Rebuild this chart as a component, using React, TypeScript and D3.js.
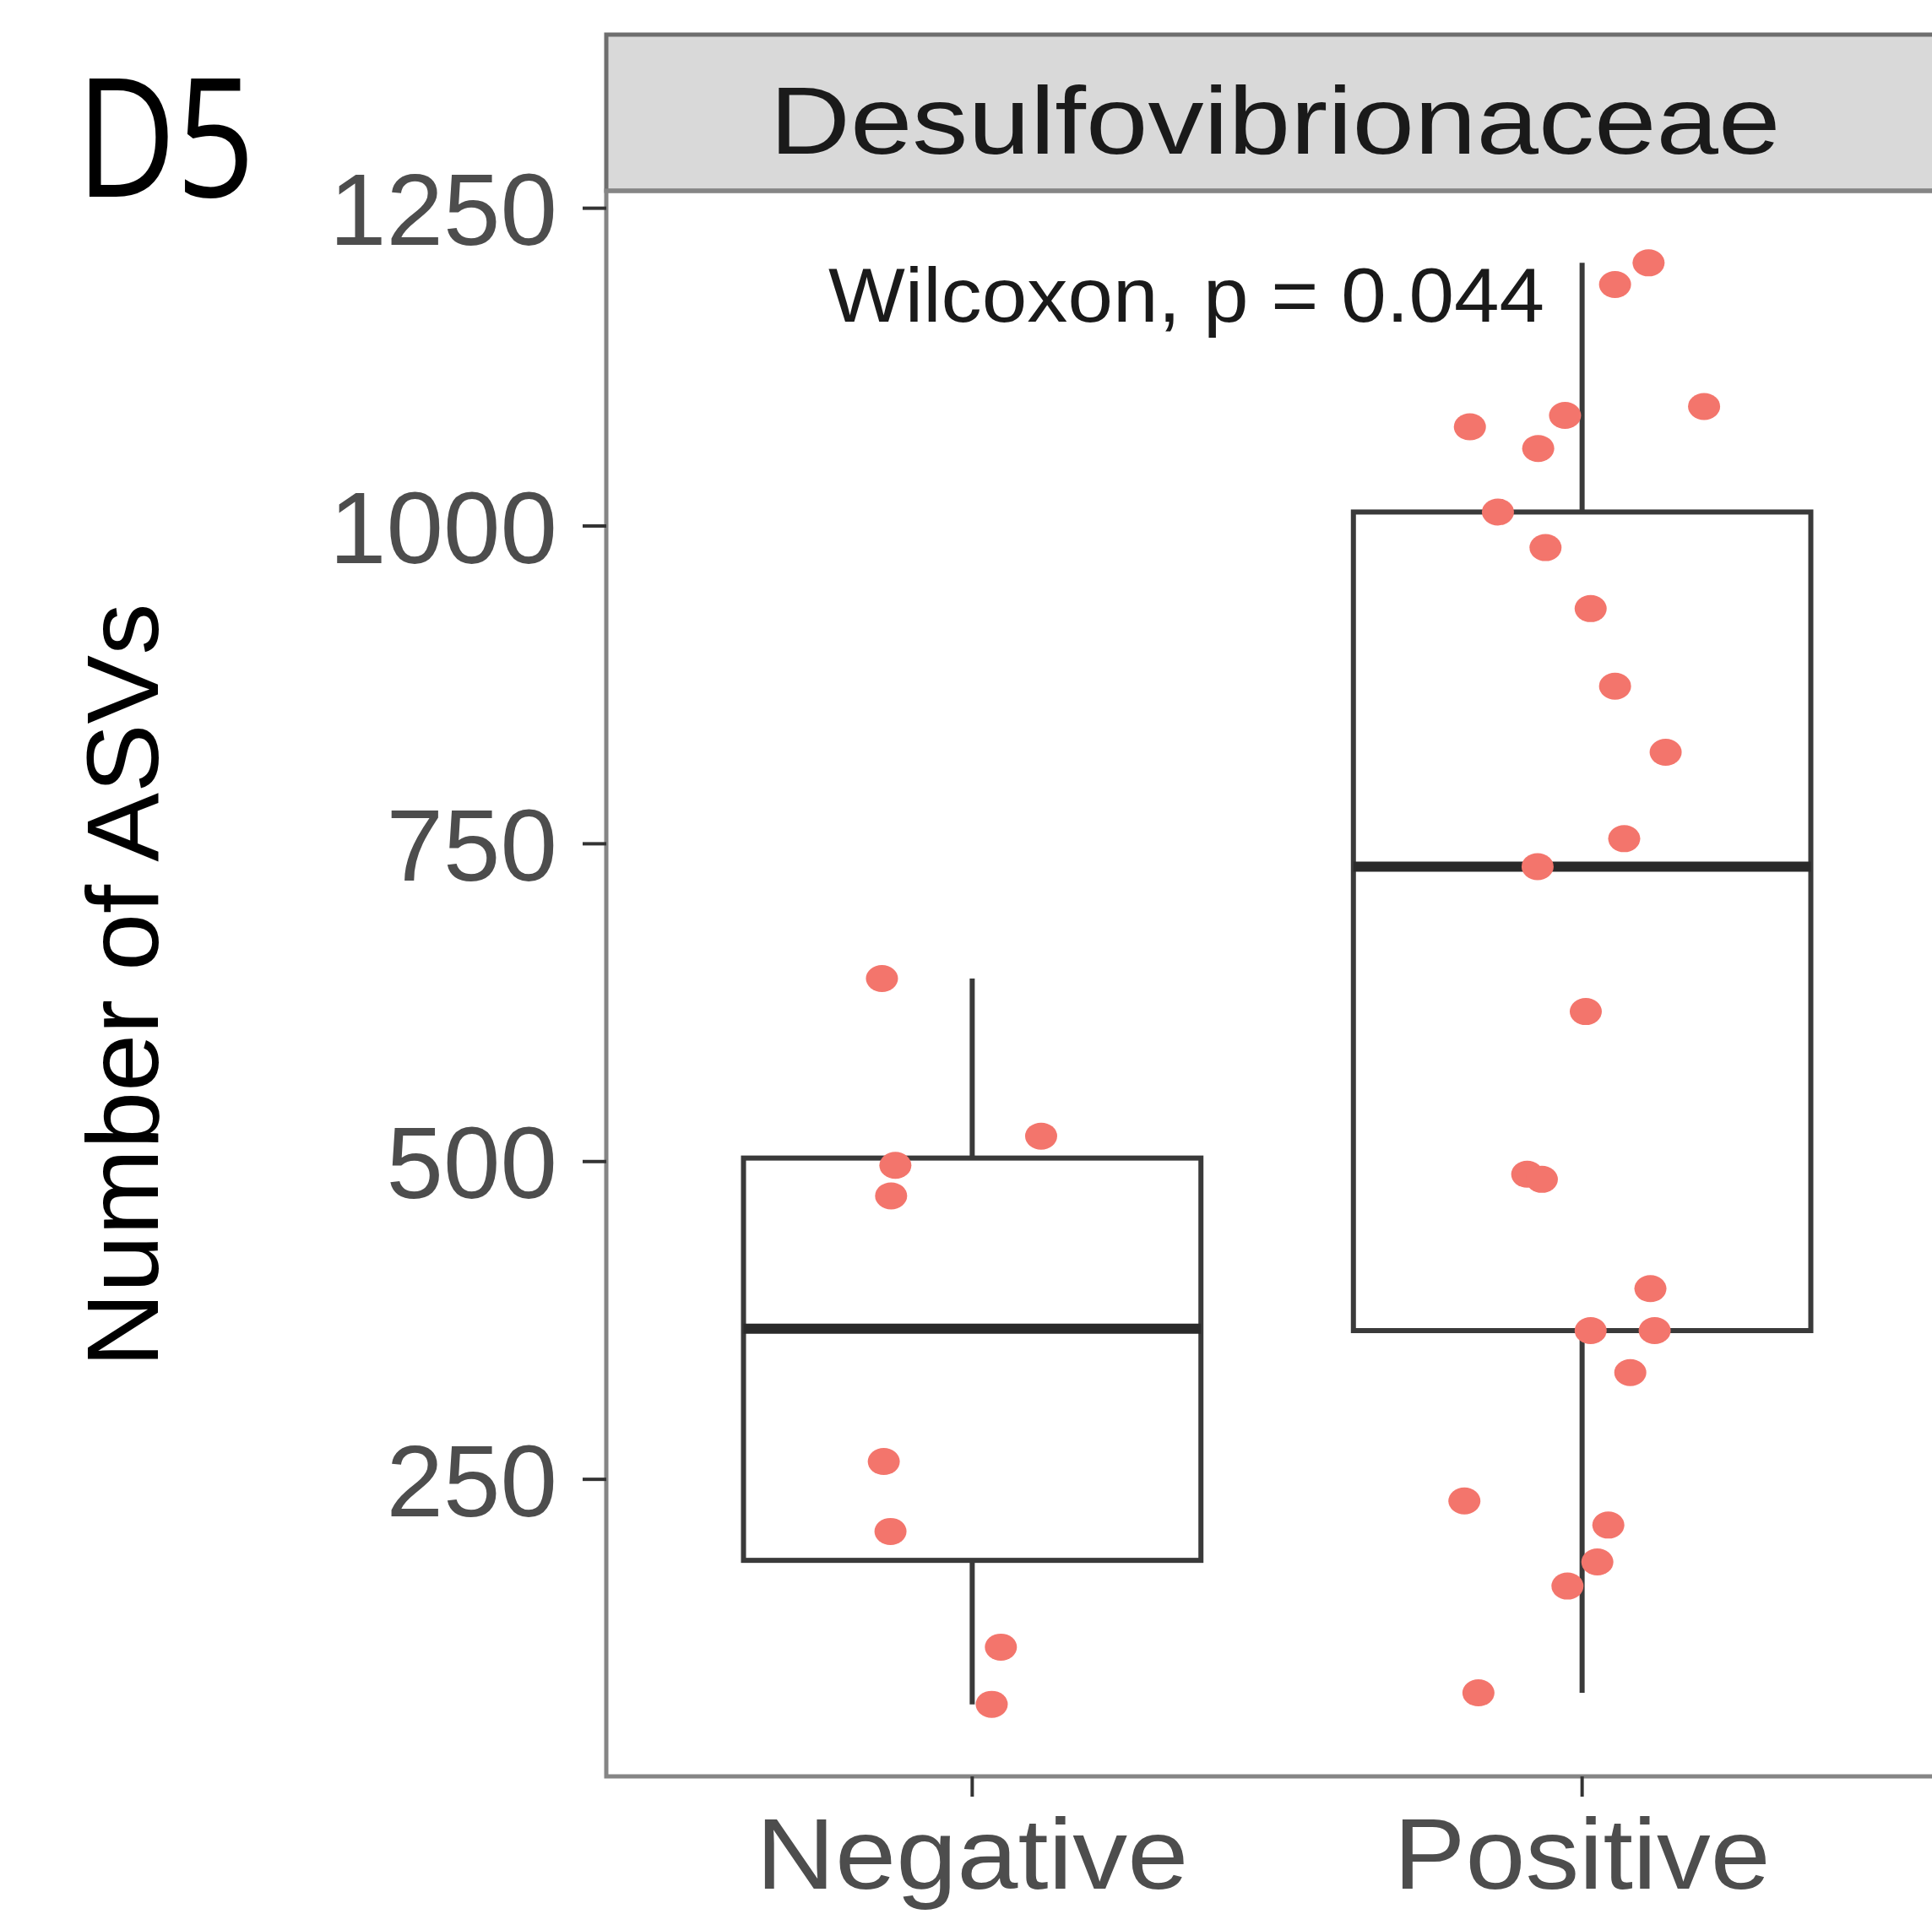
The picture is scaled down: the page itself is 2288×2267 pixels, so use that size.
import React, { useEffect, useRef } from "react";
import * as d3 from "d3";

const categories = ["Negative", "Positive"];
const negativeValues = [644, 520, 497, 473, 264, 209, 118, 73];
const negativeJitter = [-0.148, 0.113, -0.126, -0.133, -0.145, -0.134, 0.047, 0.032];
const positiveValues = [1207, 1190, 1094, 1078, 1087, 1061, 1011, 983, 935, 874, 822, 754, 732, 618, 490, 486, 400, 367, 367, 334, 233, 214, 185, 166, 82];
const positiveJitter = [0.109, 0.054, 0.2, -0.184, -0.028, -0.072, -0.138, -0.06, 0.014, 0.054, 0.137, 0.069, -0.073, 0.006, -0.09, -0.066, 0.112, 0.014, 0.119, 0.079, -0.193, 0.043, 0.025, -0.024, -0.17];
const yTicks = [250, 500, 750, 1000, 1250];
const panelTitle = "Desulfovibrionaceae";
const yTitle = "Number of ASVs";
const statLabel = "Wilcoxon, p = 0.044";
const figureTag = "D5";

const W = 2288;
const H = 2267;

export default function App() {
  const ref = useRef<SVGSVGElement | null>(null);

  useEffect(() => {
    const svg = d3.select(ref.current);
    svg.selectAll("*").remove();

    const left = 718, top = 226, bottom = 2104, right = 2307;
    const stripTop = 41;
    const groups = [
      { name: categories[0], values: negativeValues, jitter: negativeJitter },
      { name: categories[1], values: positiveValues, jitter: positiveJitter },
    ];
    const all = [...negativeValues, ...positiveValues];
    const [mn, mx] = d3.extent(all) as [number, number];
    const pad = (mx - mn) * 0.05;
    const y = d3.scaleLinear().domain([mn - pad, mx + pad]).range([bottom, top]);
    const x = d3.scaleLinear().domain([0.4, 2.6]).range([left, right]);

    const font = "'Liberation Sans', Arial, sans-serif";

    svg.append("rect").attr("x", left).attr("y", top).attr("width", right - left).attr("height", bottom - top).attr("fill", "#ffffff");

    // strip
    svg.append("rect").attr("x", left).attr("y", stripTop).attr("width", right - left).attr("height", top - stripTop)
      .attr("fill", "#d9d9d9").attr("stroke", "#6e6e6e").attr("stroke-width", 5);
    svg.append("text").attr("x", 1510).attr("y", 182).attr("text-anchor", "middle")
      .attr("font-family", font).attr("font-size", 114).attr("fill", "#1a1a1a")
      .attr("textLength", 1197).attr("lengthAdjust", "spacingAndGlyphs").text(panelTitle);

    // boxes
    groups.forEach((g, i) => {
      const s = [...g.values].sort(d3.ascending);
      const q1 = d3.quantile(s, 0.25)!;
      const med = d3.quantile(s, 0.5)!;
      const q3 = d3.quantile(s, 0.75)!;
      const iqr = q3 - q1;
      const lo = d3.min(s.filter((v) => v >= q1 - 1.5 * iqr))!;
      const hi = d3.max(s.filter((v) => v <= q3 + 1.5 * iqr))!;
      const cx = x(i + 1);
      const hw = x(1.375) - x(1);
      const gg = svg.append("g").attr("stroke", "#3a3a3a").attr("fill", "none");
      gg.append("line").attr("x1", cx).attr("x2", cx).attr("y1", y(q3)).attr("y2", y(hi)).attr("stroke-width", 6);
      gg.append("line").attr("x1", cx).attr("x2", cx).attr("y1", y(q1)).attr("y2", y(lo)).attr("stroke-width", 6);
      gg.append("rect").attr("x", cx - hw).attr("y", y(q3)).attr("width", 2 * hw).attr("height", y(q1) - y(q3))
        .attr("fill", "#ffffff").attr("stroke-width", 6);
      gg.append("line").attr("x1", cx - hw).attr("x2", cx + hw).attr("y1", y(med)).attr("y2", y(med))
        .attr("stroke", "#2a2a2a").attr("stroke-width", 12);
    });

    // points
    groups.forEach((g, i) => {
      svg.append("g").selectAll("ellipse").data(g.values).join("ellipse")
        .attr("cx", (_d, j) => x(i + 1 + g.jitter[j]))
        .attr("cy", (d) => y(d))
        .attr("rx", 19).attr("ry", 16)
        .attr("fill", "#F3756C");
    });

    // panel border
    svg.append("rect").attr("x", left).attr("y", top).attr("width", right - left).attr("height", bottom - top)
      .attr("fill", "none").attr("stroke", "#858585").attr("stroke-width", 5);

    // y axis ticks
    const ya = svg.append("g");
    yTicks.forEach((t) => {
      ya.append("line").attr("x1", left - 28).attr("x2", left).attr("y1", y(t)).attr("y2", y(t)).attr("stroke", "#333333").attr("stroke-width", 4);
      ya.append("text").attr("x", 660).attr("y", y(t)).attr("dy", "0.36em").attr("text-anchor", "end")
        .attr("font-family", font).attr("font-size", 121).attr("fill", "#4d4d4d")
        .attr("textLength", String(t).length * 67.5).attr("lengthAdjust", "spacingAndGlyphs").text(String(t));
    });

    // x axis ticks
    const xa = svg.append("g");
    categories.forEach((c, i) => {
      const cx = x(i + 1);
      xa.append("line").attr("x1", cx).attr("x2", cx).attr("y1", bottom).attr("y2", bottom + 24).attr("stroke", "#333333").attr("stroke-width", 4);
      xa.append("text").attr("x", cx).attr("y", 2237).attr("text-anchor", "middle")
        .attr("font-family", font).attr("font-size", 119).attr("fill", "#4d4d4d")
        .attr("textLength", i === 0 ? 512 : 446).attr("lengthAdjust", "spacingAndGlyphs").text(c);
    });

    // y title
    svg.append("text").attr("transform", `translate(187,1167) rotate(-90)`).attr("text-anchor", "middle")
      .attr("font-family", font).attr("font-size", 121).attr("fill", "#000000")
      .attr("textLength", 905).attr("lengthAdjust", "spacingAndGlyphs").text(yTitle);

    // stat label
    svg.append("text").attr("x", 981).attr("y", 381)
      .attr("font-family", font).attr("font-size", 90).attr("fill", "#1a1a1a")
      .attr("textLength", 848).attr("lengthAdjust", "spacingAndGlyphs").text(statLabel);

    // figure tag
    svg.append("text").attr("x", 90).attr("y", 233)
      .attr("font-family", "'Open Sans', 'Liberation Sans', sans-serif").attr("font-size", 196).attr("fill", "#000000")
      .attr("textLength", 212).attr("lengthAdjust", "spacingAndGlyphs").text(figureTag);
  }, []);

  return (
    <svg ref={ref} width={W} height={H} style={{ position: "absolute", left: 0, top: 0, background: "#ffffff" }} />
  );
}
